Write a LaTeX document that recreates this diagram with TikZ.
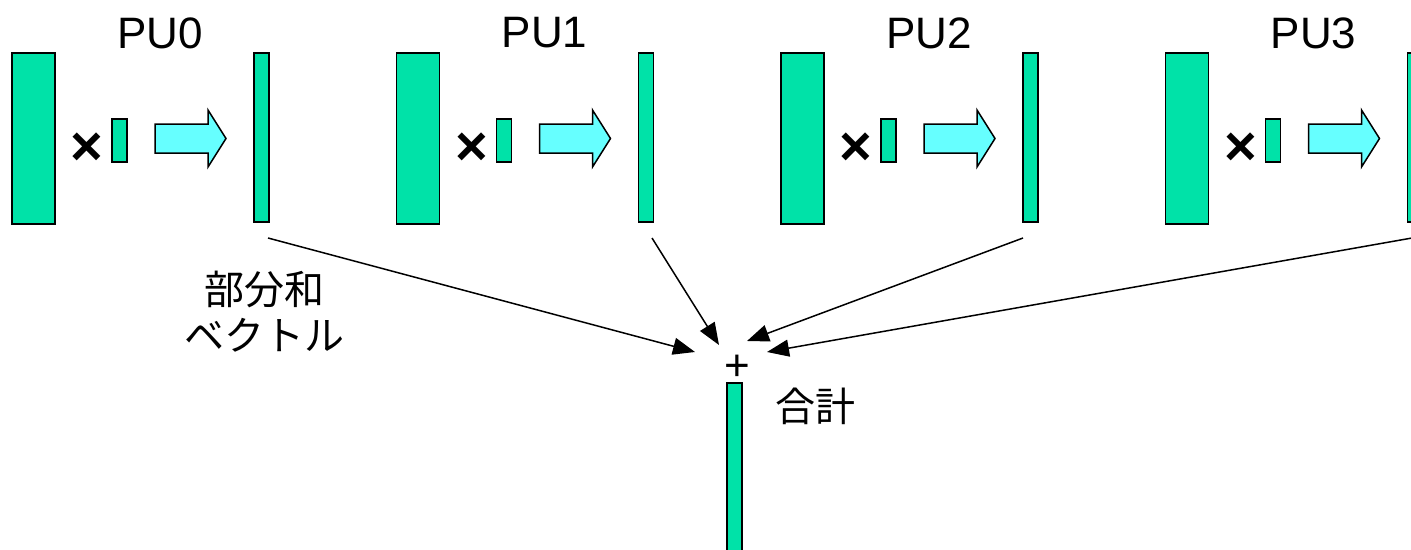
\documentclass[tikz,border=0pt]{standalone}
\usepackage{fontspec}
\setmainfont{Liberation Sans}
\newfontfamily\jpfont{Noto Sans CJK JP}
\usetikzlibrary{arrows.meta,calc}
\definecolor{vgreen}{RGB}{0,226,168}
\definecolor{acyan}{RGB}{102,255,255}
\tikzset{
  gbox/.style={draw=black, fill=vgreen, line width=1.5pt, inner sep=0pt},
  barrow/.style={draw=black, fill=acyan, line width=1.5pt, line join=miter},
  conn/.style={draw=black, line width=1.5pt, -{Triangle[length=22pt,width=17pt]}},
  pulabel/.style={font=\fontsize{44}{48}\selectfont, inner sep=0pt},
  timeslabel/.style={font=\bfseries\fontsize{56}{60}\selectfont, inner sep=0pt},
  jplabel/.style={font=\jpfont\fontsize{40}{46}\selectfont, inner sep=0pt, align=center},
}
\begin{document}
\begin{tikzpicture}[x=1pt,y=-1pt]
\useasboundingbox (0,0) rectangle (1411,549);
\foreach \i in {0,1,2,3}{
  \begin{scope}[shift={(384.5*\i,0)}]
    \node[pulabel] (pu\i) at (160,33) {PU\i};
    \node[gbox, minimum width=43pt, minimum height=171pt] (big\i) at (33.5,138.5) {};
    \node[timeslabel] (x\i) at (87,149) {×};
    \node[gbox, minimum width=15pt, minimum height=43pt] (vec\i) at (119.5,140.5) {};
    \path[barrow] (155,124) -- (208,124) -- (208,110) -- (226,138.5) -- (208,167) -- (208,153) -- (155,153) -- cycle;
    \node[gbox, minimum width=15pt, minimum height=169pt] (res\i) at (261.5,137.5) {};
  \end{scope}
}
\coordinate (s0) at (268,238);
\coordinate (s1) at (652,238);
\coordinate (s2) at (1023,238);
\coordinate (s3) at (1412,238);
\node[jplabel] (psum) at (264,312) {部分和\\ベクトル};
\node[font=\fontsize{44}{48}\selectfont, inner sep=0pt] (plus) at (737.5,368) {+};
\node[gbox, minimum width=15pt, minimum height=177pt] (total) at (734.5,471.5) {};
\node[jplabel] (gokei) at (815,406) {合計};
\coordinate (t0) at (695,352);
\coordinate (t1) at (719,345);
\coordinate (t2) at (747,341);
\coordinate (t3) at (767,352);
\draw[conn] (s0) -- (t0);
\draw[conn] (s1) -- (t1);
\draw[conn] (s2) -- (t2);
\draw[conn] (s3) -- (t3);
\end{tikzpicture}
\end{document}
